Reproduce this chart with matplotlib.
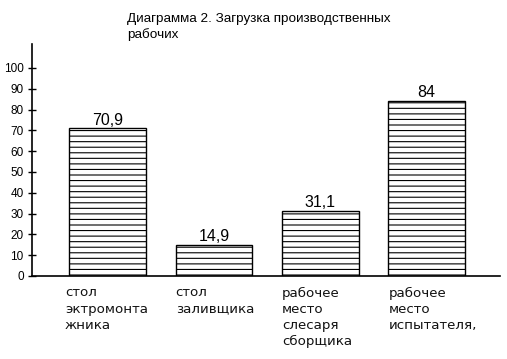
import matplotlib
matplotlib.use("Agg")
import matplotlib.pyplot as plt
from matplotlib.transforms import blended_transform_factory

categories = ["стол\nэктромонта\nжника", "стол\nзаливщика",
              "рабочее\nместо\nслесаря\nсборщика", "рабочее\nместо\nиспытателя,"]
values = [70.9, 14.9, 31.1, 84]
value_labels = ["70,9", "14,9", "31,1", "84"]
yticks = [0, 10, 20, 30, 40, 50, 60, 70, 80, 90, 100]
title = "Диаграмма 2. Загрузка производственных\nрабочих"

plt.rcParams['font.family'] = ['Liberation Sans', 'DejaVu Sans']
plt.rcParams['hatch.linewidth'] = 0.8

fig = plt.figure(figsize=(5.07, 3.59), dpi=100)
ax = fig.add_axes([32/507, 1-276/359, (500-32)/507, (276-44)/359])

x = list(range(len(values)))
width = 0.72
ax.bar(x, values, width=width, color='white', edgecolor='black',
       hatch='---', linewidth=1.0)

for xi, v, lab in zip(x, values, value_labels):
    ax.text(xi, v + 0.4, lab, ha='center', va='bottom', fontsize=11.5)

ax.set_xlim(-0.71, 3.69)
ax.set_ylim(0, 111.5)
ax.set_yticks(yticks)
ax.set_yticklabels([str(t) for t in yticks], fontsize=8.5)
ax.set_xticks([])
ax.tick_params(axis='y', direction='inout', length=6, width=1, pad=3)
for s in ['top', 'right']:
    ax.spines[s].set_visible(False)
ax.spines['left'].set_linewidth(1.2)
ax.spines['bottom'].set_linewidth(1.2)

trans = blended_transform_factory(ax.transData, ax.transAxes)
for xi, cat in zip(x, categories):
    ax.text(xi - width/2 + (-0.04 if xi == 0 else 0), -0.045, cat, transform=trans,
            ha='left', va='top', fontsize=9.6, linespacing=1.32,
            family=['DejaVu Sans'], color='#111111')

fig.text(127/507, 1-13/359, title, ha='left', va='top', fontsize=9.7, linespacing=1.3)

fig.savefig("out.png", dpi=100, facecolor='white')
